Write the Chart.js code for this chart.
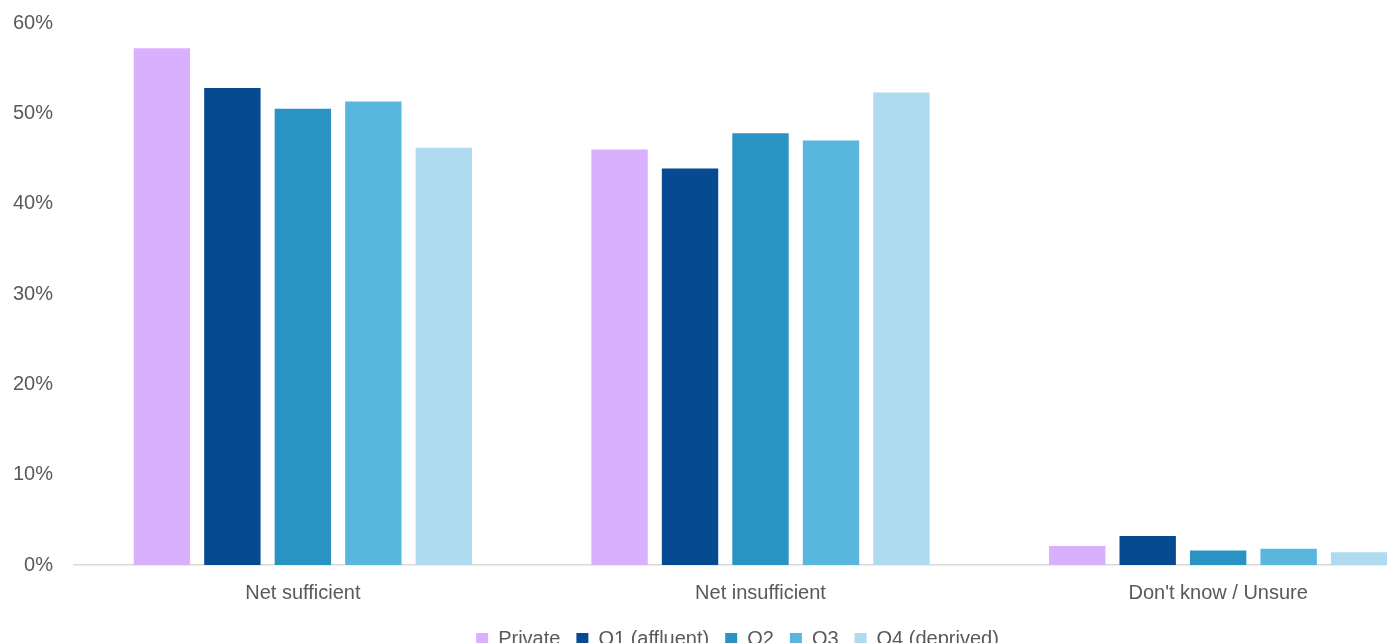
<!DOCTYPE html>
<html>
<head>
<meta charset="utf-8">
<script src="https://cdn.jsdelivr.net/npm/chart.js@4/dist/chart.umd.min.js"></script>
<style>
  html, body { margin: 0; padding: 0; background: #fff; overflow: hidden; }
  #wrap { position: absolute; left: 0; top: -2px; width: 1474px; height: 661px; }
</style>
</head>
<body>
<div id="wrap"><canvas id="surveyChart"></canvas></div>
<script>
const categories = ['Net sufficient', 'Net insufficient', "Don't know / Unsure"];
const privateVals = [57.2, 46.0, 2.1];
const q1Vals = [52.8, 43.9, 3.2];
const q2Vals = [50.5, 47.8, 1.6];
const q3Vals = [51.3, 47.0, 1.8];
const q4Vals = [46.2, 52.3, 1.4];
const seriesNames = ['Private', 'Q1 (affluent)', 'Q2', 'Q3', 'Q4 (deprived)'];
const seriesColors = ['#d8b0fe', '#064a91', '#2994c3', '#59b6dd', '#aedbef'];
const seriesValues = [privateVals, q1Vals, q2Vals, q3Vals, q4Vals];

const fontFamily = '"Liberation Sans", Arial, sans-serif';

// nudge the legend sideways so it sits under the original figure's centre
const legendShift = {
    id: 'legendShift',
    afterLayout(chart) {
        const lg = chart.legend;
        if (!lg) return;
        lg.left += 14;
        lg.right += 14;
    }
};

const ctx = document.getElementById('surveyChart').getContext('2d');
new Chart(ctx, {
    type: 'bar',
    data: {
        labels: categories,
        datasets: seriesNames.map((name, i) => ({
            label: name,
            data: seriesValues[i],
            backgroundColor: seriesColors[i],
            borderWidth: 0,
            barPercentage: 0.8,
            categoryPercentage: 0.77
        }))
    },
    options: {
        responsive: true,
        maintainAspectRatio: false,
        animation: false,
        layout: { padding: { left: 0, right: 27, top: 0, bottom: 0 } },
        scales: {
            x: {
                grid: { display: false },
                border: { display: true, color: '#d9d9d9', width: 1.5 },
                ticks: { color: '#595959', font: { family: fontFamily, size: 20 }, padding: 8 }
            },
            y: {
                min: 0, max: 60,
                grid: { display: false },
                border: { display: false },
                ticks: {
                    stepSize: 10,
                    color: '#595959',
                    padding: 13,
                    font: { family: fontFamily, size: 20 },
                    callback: v => v + '%'
                }
            }
        },
        plugins: {
            legend: {
                position: 'bottom',
                labels: {
                    boxWidth: 12, boxHeight: 12, padding: 16,
                    color: '#595959',
                    font: { family: fontFamily, size: 20 }
                }
            },
            tooltip: { enabled: false }
        }
    },
    plugins: [legendShift]
});
</script>
</body>
</html>
